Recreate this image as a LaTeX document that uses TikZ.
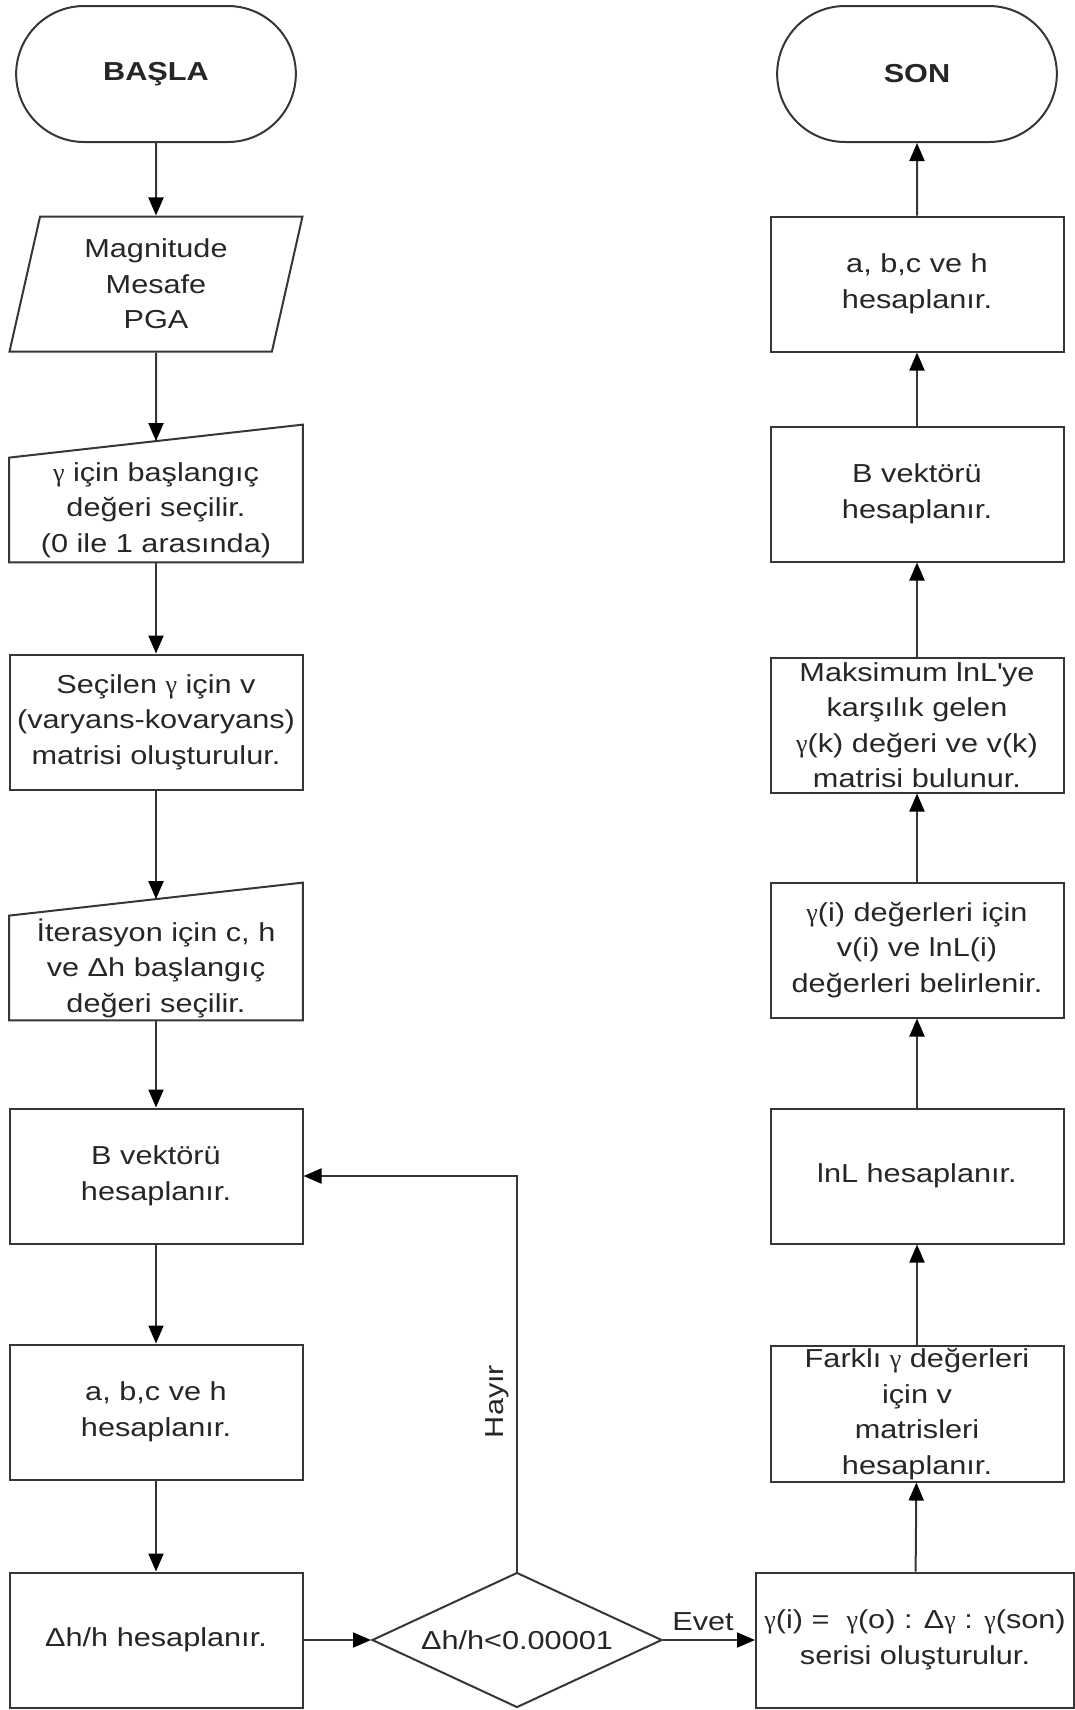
\documentclass[tikz,border=0pt]{standalone}
\usepackage{fontspec}
\setmainfont{Liberation Sans}[FakeStretch=1.18]
\newfontfamily\grkfont{Liberation Serif}
\newcommand{\gsym}{{\grkfont γ}}
\usepackage{tikz}
\usetikzlibrary{
  positioning, shapes.geometric, shapes.misc,
  arrows.meta, calc
}
\definecolor{linegray}{HTML}{363636}
\definecolor{txtgray}{HTML}{262626}
\tikzset{
  procbox/.style={
    draw=linegray, line width=1pt, rectangle,
    minimum width=146.5pt, minimum height=67.5pt,
    align=center, inner sep=1pt
  },
  termbox/.style={
    draw=linegray, line width=1pt, rounded rectangle,
    minimum width=146.5pt, minimum height=68pt,
    align=center
  },
  databox/.style={
    draw=linegray, line width=1pt, trapezium,
    trapezium left angle=72, trapezium right angle=108,
    trapezium stretches body,
    minimum width=146.5pt, minimum height=67.5pt,
    align=center, inner sep=1pt
  },
  manbox/.style={
    rectangle, minimum width=146.5pt, minimum height=52pt,
    align=center, inner sep=1pt
  },
  arrow/.style={-{Triangle[length=9pt,width=7.5pt,color=black]}, draw=linegray, line width=1pt}
}

\begin{document}
\begin{tikzpicture}[x=0.5pt, y=-0.5pt,
  font=\fontsize{13pt}{17.75pt}\selectfont, text=txtgray,
  decbox/.style={diamond, draw=linegray, line width=1pt, aspect=2.15, minimum width=145pt, minimum height=67.5pt, inner sep=1pt},
  outline/.style={draw=linegray, line width=1pt}
]
\useasboundingbox (0,0) rectangle (1075,1710);

%% Left column
\node[termbox, font=\fontsize{13pt}{17.75pt}\selectfont\bfseries] (start) at (156,74) {BAŞLA};
\node[databox] (input) at (156,284) {Magnitude\\Mesafe\\PGA};
\node[manbox] (gin) at (156,510) {\gsym{} için başlangıç\\değeri seçilir.\\(0 ile 1 arasında)};
\node[procbox] (vmat) at (156,722) {Seçilen \gsym{} için v\\(varyans-kovaryans)\\matrisi oluşturulur.};
\node[manbox] (iter) at (156,968) {İterasyon için c, h\\ve Δh başlangıç\\değeri seçilir.};
\node[procbox] (bvec) at (156,1176) {B vektörü\\hesaplanır.};
\node[procbox] (abch) at (156,1412) {a, b,c ve h\\hesaplanır.};
\node[procbox] (dhh) at (156,1640) {Δh/h hesaplanır.};

%% Manual input outlines
\foreach \m in {gin,iter}{
  \draw[outline] (\m.north west) -- ([yshift=16.5pt]\m.north east) -- (\m.south east) -- (\m.south west) -- cycle;
  \coordinate (\m-in) at ([yshift=8.25pt]\m.north);
}

%% Decision
\node[decbox] (check) at (517,1640) {Δh/h<0.00001};

%% Right column
\node[procbox, minimum width=159pt] (gser) at (915,1640) {\gsym(i) = \ \gsym(o) : Δ\gsym{} : \gsym(son)\\serisi oluşturulur.};
\node[procbox] (vlist) at (917,1414) {Farklı \gsym{} değerleri\\için v\\matrisleri\\hesaplanır.};
\node[procbox] (lnl) at (917,1176) {lnL hesaplanır.};
\node[procbox] (gval) at (917,950) {\gsym(i) değerleri için\\v(i) ve lnL(i)\\değerleri belirlenir.};
\node[procbox] (maxl) at (917,725) {Maksimum lnL\textquotesingle ye\\karşılık gelen\\\gsym(k) değeri ve v(k)\\matrisi bulunur.};
\node[procbox] (bvec2) at (917,494) {B vektörü\\hesaplanır.};
\node[procbox] (abch2) at (917,284) {a, b,c ve h\\hesaplanır.};
\node[termbox, font=\fontsize{13pt}{17.75pt}\selectfont\bfseries] (stop) at (917,74) {SON};

%% Left arrows
\draw[arrow] (start) -- (input);
\draw[arrow] (input) -- (gin-in);
\draw[arrow] (gin) -- (vmat);
\draw[arrow] (vmat) -- (iter-in);
\foreach \a/\b in {iter/bvec, bvec/abch, abch/dhh}
  \draw[arrow] (\a) -- (\b);
\draw[arrow] (dhh) -- (check);

%% Decision arrows
\draw[arrow] (check.east) -- node[above, yshift=1pt, xshift=-3pt] {Evet} (gser.west);
\draw[arrow] (check.north) |- node[pos=0.215, rotate=90, anchor=south] {Hayır} (bvec.east);

%% Right arrows (upward)
\foreach \a/\b in {gser/vlist, vlist/lnl, lnl/gval, gval/maxl, maxl/bvec2, bvec2/abch2, abch2/stop}
  \draw[arrow] (\a) -- (\b);

\end{tikzpicture}
\end{document}
